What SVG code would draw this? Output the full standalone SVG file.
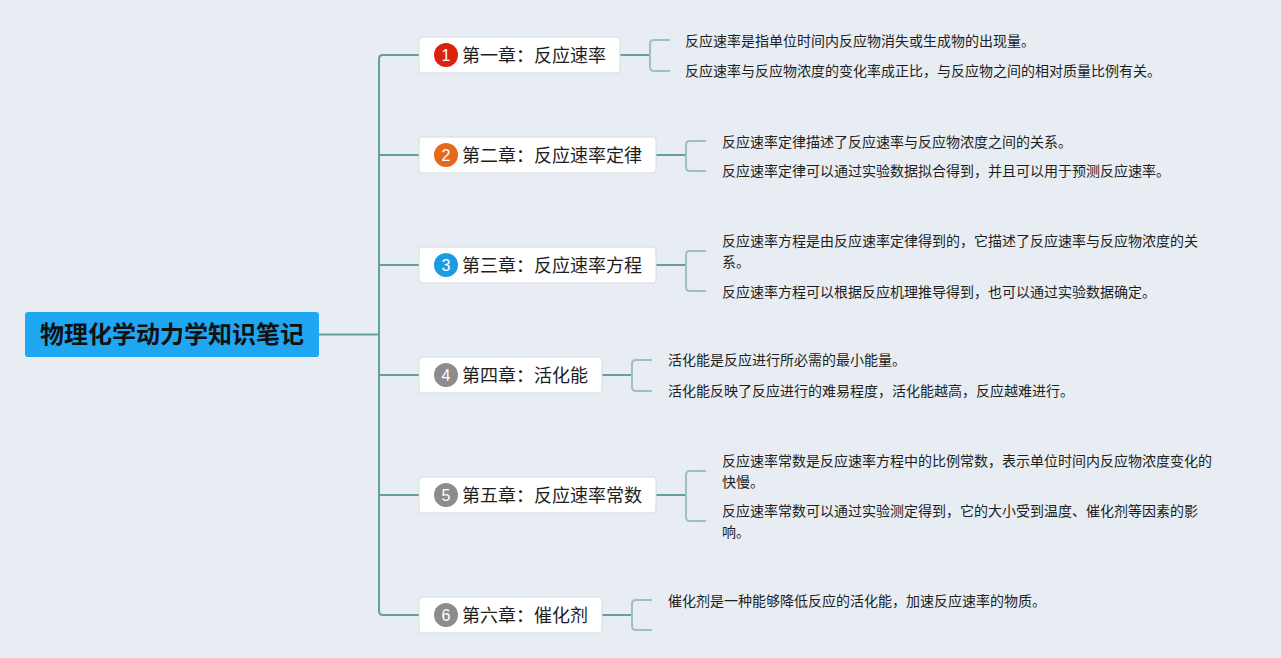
<svg xmlns="http://www.w3.org/2000/svg" width="1281" height="658" viewBox="0 0 1281 658">
<style>
.bg{fill:#E7EDF2}
.root{fill:#1FA7F3}
.roott{font-family:"Noto Sans CJK SC","Noto Sans",sans-serif;font-size:24px;font-weight:bold;fill:#111}
.node{fill:#FFFFFF;stroke:#D5DBDF;stroke-width:1}
.nt{font-family:"Noto Sans CJK SC","Noto Sans",sans-serif;font-size:18px;fill:#1E1E1E}
.num{font-family:"Liberation Sans","Noto Sans",sans-serif;font-size:16px;fill:#FFFFFF;text-anchor:middle}
.leaf{font-family:"Noto Sans CJK SC","Noto Sans",sans-serif;font-size:14px;fill:#1E1E1E}
.main{fill:none;stroke:#64A096;stroke-width:2}
.br{fill:none;stroke:#9DC2BB;stroke-width:2}
</style>
<rect class="bg" x="0" y="0" width="1281" height="658"/>
<g id="connectors">
<path class="main" d="M319,334.5 H379"/>
<path class="main" d="M419,55 H383 Q379,55 379,59 V611 Q379,615 383,615 H419"/>
<path class="main" d="M379,155 H419 M379,265 H419 M379,375 H419 M379,495 H419"/>
<path class="main" d="M620,55 H650"/>
<path class="br" d="M670,40 H654 Q650,40 650,44 V67 Q650,71 654,71 H670"/>
<path class="main" d="M656,155 H686"/>
<path class="br" d="M706,141 H690 Q686,141 686,145 V167 Q686,171 690,171 H706"/>
<path class="main" d="M656,265 H686"/>
<path class="br" d="M706,251 H690 Q686,251 686,255 V287 Q686,291 690,291 H706"/>
<path class="main" d="M602,375 H632"/>
<path class="br" d="M652,360 H636 Q632,360 632,364 V387 Q632,391 636,391 H652"/>
<path class="main" d="M656,495 H686"/>
<path class="br" d="M706,471 H690 Q686,471 686,475 V517 Q686,521 690,521 H706"/>
<path class="main" d="M602,615 H632"/>
<path class="br" d="M652,600 H636 Q632,600 632,604 V626 Q632,630 636,630 H652"/>
</g>
<g id="root">
<rect class="root" x="25" y="312" width="294" height="45" rx="3"/>
<text class="roott" x="172" y="343" text-anchor="middle">物理化学动力学知识笔记</text>
</g>
<g id="ch1">
<rect class="node" x="419" y="37" width="201" height="36" rx="3"/>
<circle cx="446" cy="55" r="12" fill="#D9230F"/>
<text class="num" x="446" y="60.8">1</text>
<text class="nt" x="462" y="61.5">第一章：反应速率</text>
</g>
<g id="ch1-leaves">
<text class="leaf" x="685" y="46">反应速率是指单位时间内反应物消失或生成物的出现量。</text>
<text class="leaf" x="685" y="76">反应速率与反应物浓度的变化率成正比，与反应物之间的相对质量比例有关。</text>
</g>
<g id="ch2">
<rect class="node" x="419" y="137" width="237" height="36" rx="3"/>
<circle cx="446" cy="155" r="12" fill="#E5691A"/>
<text class="num" x="446" y="160.8">2</text>
<text class="nt" x="462" y="161.5">第二章：反应速率定律</text>
</g>
<g id="ch2-leaves">
<text class="leaf" x="722" y="147">反应速率定律描述了反应速率与反应物浓度之间的关系。</text>
<text class="leaf" x="722" y="176">反应速率定律可以通过实验数据拟合得到，并且可以用于预测反应速率。</text>
</g>
<g id="ch3">
<rect class="node" x="419" y="247" width="237" height="36" rx="3"/>
<circle cx="446" cy="265" r="12" fill="#1D9BE0"/>
<text class="num" x="446" y="270.8">3</text>
<text class="nt" x="462" y="271.5">第三章：反应速率方程</text>
</g>
<g id="ch3-leaves">
<text class="leaf" x="722" y="246">反应速率方程是由反应速率定律得到的，它描述了反应速率与反应物浓度的关</text>
<text class="leaf" x="722" y="267">系。</text>
<text class="leaf" x="722" y="297">反应速率方程可以根据反应机理推导得到，也可以通过实验数据确定。</text>
</g>
<g id="ch4">
<rect class="node" x="419" y="357" width="183" height="36" rx="3"/>
<circle cx="446" cy="375" r="12" fill="#8C8C8C"/>
<text class="num" x="446" y="380.8">4</text>
<text class="nt" x="462" y="381.5">第四章：活化能</text>
</g>
<g id="ch4-leaves">
<text class="leaf" x="668" y="365">活化能是反应进行所必需的最小能量。</text>
<text class="leaf" x="668" y="396">活化能反映了反应进行的难易程度，活化能越高，反应越难进行。</text>
</g>
<g id="ch5">
<rect class="node" x="419" y="477" width="237" height="36" rx="3"/>
<circle cx="446" cy="495" r="12" fill="#8C8C8C"/>
<text class="num" x="446" y="500.8">5</text>
<text class="nt" x="462" y="501.5">第五章：反应速率常数</text>
</g>
<g id="ch5-leaves">
<text class="leaf" x="722" y="466">反应速率常数是反应速率方程中的比例常数，表示单位时间内反应物浓度变化的</text>
<text class="leaf" x="722" y="487">快慢。</text>
<text class="leaf" x="722" y="516">反应速率常数可以通过实验测定得到，它的大小受到温度、催化剂等因素的影</text>
<text class="leaf" x="722" y="537">响。</text>
</g>
<g id="ch6">
<rect class="node" x="419" y="597" width="183" height="36" rx="3"/>
<circle cx="446" cy="615" r="12" fill="#8C8C8C"/>
<text class="num" x="446" y="620.8">6</text>
<text class="nt" x="462" y="621.5">第六章：催化剂</text>
</g>
<g id="ch6-leaves">
<text class="leaf" x="668" y="606">催化剂是一种能够降低反应的活化能，加速反应速率的物质。</text>
</g>
</svg>
